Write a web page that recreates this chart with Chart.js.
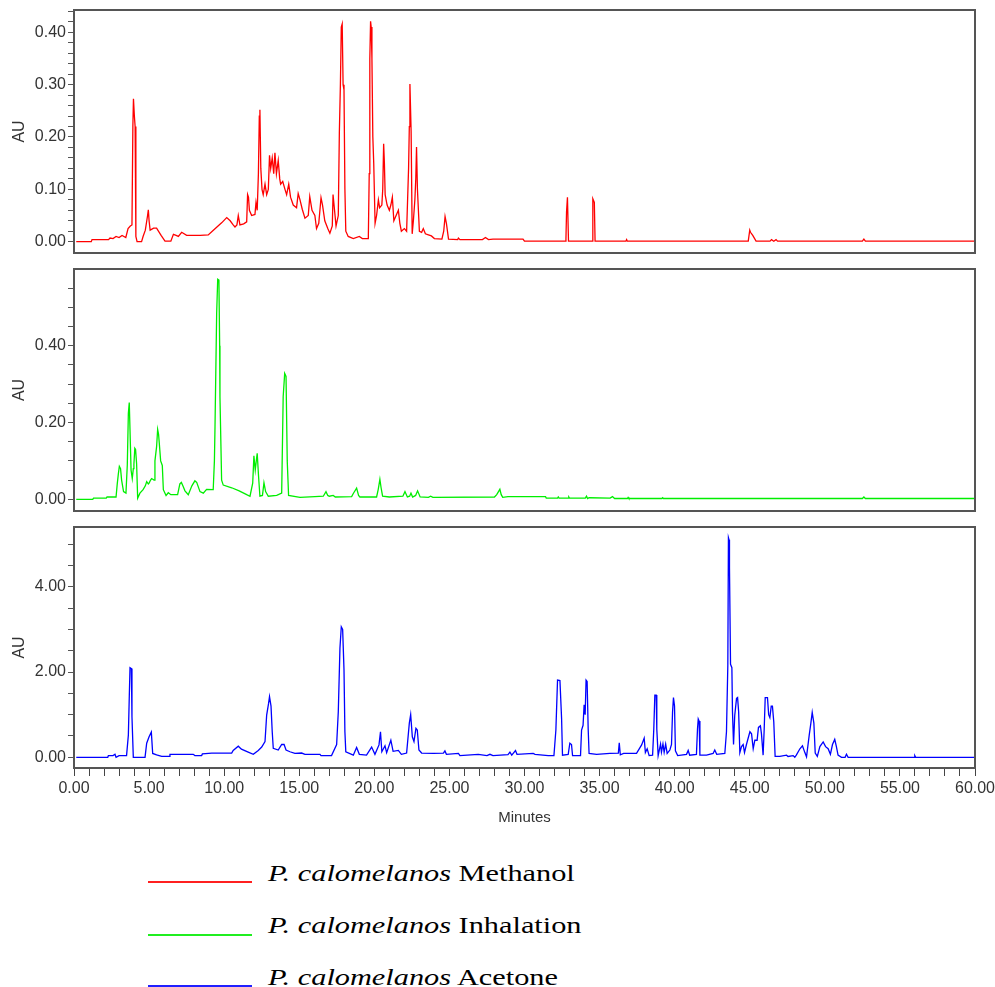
<!DOCTYPE html>
<html>
<head>
<meta charset="utf-8">
<script src="https://cdn.jsdelivr.net/npm/chart.js@4.4.1/dist/chart.umd.min.js"></script>
<style>
  body { margin: 0; background: #fff; width: 995px; height: 987px; overflow: hidden; position: relative; }
  canvas { position: absolute; left: 0; }
  .key { position: absolute; left: 148px; width: 104px; height: 2px; }
  .txt { position: absolute; left: 268px; font-family: 'Liberation Serif', 'Times New Roman', serif; font-size: 23.5px; line-height: 24px;
         white-space: nowrap; transform: scaleX(1.29); transform-origin: 0 0; color: #000; }
</style>
</head>
<body>
<canvas id="c1" width="995" height="262" style="top:0px"></canvas>
<canvas id="c2" width="995" height="258" style="top:262px"></canvas>
<canvas id="c3" width="995" height="320" style="top:520px"></canvas>

<div class="key" style="top:881px; background:#ff2020"></div>
<div class="txt" style="top:861px"><i>P. calomelanos</i> Methanol</div>
<div class="key" style="top:934px; background:#20ee20"></div>
<div class="txt" style="top:913px"><i>P. calomelanos</i> Inhalation</div>
<div class="key" style="top:985px; background:#2020ff"></div>
<div class="txt" style="top:965px"><i>P. calomelanos</i> Acetone</div>

<script>
// [minutes, AU]
var methanol = [[0.15,0],[1.15,0],[1.2,0.004],[2.3,0.004],[2.4,0.007],[2.6,0.006],[2.8,0.01],[3.0,0.008],[3.2,0.012],[3.45,0.008],[3.6,0.025],[3.75,0.03],[3.86,0.032],[3.92,0.22],[3.96,0.273],[4.02,0.24],[4.07,0.22],[4.12,0.01],[4.2,0],[4.5,0],[4.6,0.01],[4.75,0.022],[4.9,0.05],[4.95,0.061],[5.0,0.04],[5.07,0.022],[5.3,0.026],[5.5,0.026],[5.8,0.012],[6.06,0.001],[6.45,0.001],[6.62,0.014],[6.8,0.012],[6.95,0.01],[7.17,0.018],[7.5,0.012],[8.4,0.012],[8.94,0.013],[9.28,0.022],[9.83,0.036],[10.17,0.046],[10.4,0.04],[10.6,0.032],[10.72,0.028],[10.85,0.032],[10.94,0.05],[11.05,0.032],[11.3,0.034],[11.5,0.038],[11.56,0.09],[11.62,0.085],[11.68,0.06],[11.83,0.05],[12.05,0.052],[12.12,0.075],[12.2,0.06],[12.28,0.13],[12.34,0.24],[12.38,0.252],[12.44,0.14],[12.52,0.1],[12.6,0.09],[12.72,0.11],[12.83,0.09],[12.94,0.1],[13.02,0.165],[13.1,0.14],[13.2,0.16],[13.3,0.13],[13.38,0.17],[13.48,0.13],[13.6,0.155],[13.7,0.12],[13.76,0.11],[13.9,0.115],[14.05,0.1],[14.16,0.09],[14.3,0.11],[14.42,0.085],[14.6,0.07],[14.82,0.065],[14.93,0.092],[15.05,0.08],[15.2,0.062],[15.38,0.045],[15.6,0.05],[15.7,0.086],[15.85,0.06],[16.04,0.05],[16.15,0.025],[16.3,0.035],[16.45,0.084],[16.55,0.07],[16.7,0.04],[16.9,0.025],[17.04,0.016],[17.2,0.03],[17.25,0.09],[17.35,0.06],[17.45,0.03],[17.6,0.05],[17.67,0.207],[17.74,0.3],[17.8,0.41],[17.86,0.416],[17.92,0.3],[17.98,0.29],[18.04,0.1],[18.1,0.02],[18.26,0.01],[18.6,0.006],[19.0,0.01],[19.2,0.006],[19.6,0.006],[19.66,0.13],[19.7,0.35],[19.75,0.421],[19.79,0.41],[19.84,0.35],[19.9,0.2],[19.96,0.15],[20.05,0.035],[20.15,0.05],[20.27,0.08],[20.35,0.065],[20.5,0.07],[20.56,0.1],[20.62,0.187],[20.67,0.15],[20.72,0.09],[20.85,0.07],[21.0,0.06],[21.1,0.07],[21.2,0.085],[21.3,0.04],[21.45,0.05],[21.6,0.06],[21.7,0.035],[21.8,0.02],[22.0,0.025],[22.15,0.02],[22.28,0.14],[22.33,0.22],[22.37,0.301],[22.45,0.21],[22.52,0.015],[22.6,0.04],[22.7,0.08],[22.76,0.12],[22.81,0.181],[22.87,0.1],[22.92,0.069],[23.0,0.02],[23.15,0.018],[23.26,0.025],[23.4,0.015],[23.6,0.013],[23.8,0.011],[24.0,0.006],[24.5,0.005],[24.62,0.02],[24.71,0.048],[24.8,0.035],[24.94,0.005],[25.55,0.004],[25.6,0.007],[25.7,0.004],[27.2,0.004],[27.4,0.008],[27.6,0.004],[27.9,0.005],[29.9,0.005],[30.0,0.001],[32.7,0.001],[32.76,0.005],[32.8,0.057],[32.86,0.085],[32.93,0.001],[34.5,0.001],[34.55,0.082],[34.65,0.075],[34.7,0.001],[36.75,0.001],[36.8,0.004],[36.85,0.001],[44.9,0.001],[45.0,0.022],[45.05,0.018],[45.2,0.012],[45.42,0.001],[46.35,0.001],[46.45,0.004],[46.6,0.001],[46.75,0.004],[46.85,0.001],[52.5,0.001],[52.6,0.005],[52.7,0.001],[60.0,0.001]];

var inhalation = [[0.15,0],[1.25,0],[1.3,0.003],[2.15,0.003],[2.2,0.006],[2.8,0.006],[2.88,0.04],[2.95,0.065],[3.02,0.086],[3.1,0.08],[3.17,0.05],[3.3,0.02],[3.46,0.016],[3.55,0.09],[3.62,0.224],[3.68,0.252],[3.73,0.18],[3.8,0.076],[3.88,0.054],[3.95,0.08],[3.99,0.092],[4.05,0.133],[4.1,0.13],[4.17,0.092],[4.24,0.003],[4.39,0.016],[4.6,0.025],[4.75,0.035],[4.84,0.046],[4.95,0.04],[5.0,0.042],[5.1,0.05],[5.17,0.054],[5.33,0.05],[5.39,0.1],[5.5,0.137],[5.57,0.182],[5.63,0.17],[5.68,0.146],[5.77,0.1],[5.88,0.088],[5.95,0.025],[6.13,0.01],[6.28,0.017],[6.45,0.012],[6.9,0.012],[7.05,0.04],[7.15,0.044],[7.25,0.035],[7.39,0.022],[7.61,0.012],[7.85,0.035],[8.05,0.048],[8.17,0.044],[8.39,0.02],[8.61,0.016],[8.83,0.026],[9.27,0.025],[9.35,0.1],[9.39,0.189],[9.5,0.484],[9.57,0.573],[9.65,0.571],[9.7,0.4],[9.72,0.267],[9.83,0.05],[9.94,0.037],[10.5,0.03],[11.0,0.022],[11.5,0.012],[11.72,0.008],[11.9,0.042],[11.98,0.113],[12.07,0.076],[12.14,0.1],[12.2,0.12],[12.29,0.06],[12.38,0.008],[12.55,0.01],[12.65,0.043],[12.76,0.02],[12.94,0.008],[13.5,0.01],[13.83,0.016],[13.93,0.267],[14.03,0.328],[14.12,0.32],[14.2,0.1],[14.29,0.01],[15.05,0.005],[16.04,0.007],[16.6,0.008],[16.78,0.02],[16.9,0.01],[17.0,0.008],[17.26,0.01],[17.4,0.006],[18.49,0.007],[18.6,0.015],[18.82,0.029],[18.95,0.01],[19.04,0.006],[20.15,0.006],[20.26,0.026],[20.37,0.052],[20.45,0.03],[20.55,0.008],[21.0,0.006],[21.9,0.008],[22.04,0.02],[22.2,0.006],[22.35,0.008],[22.44,0.016],[22.55,0.006],[22.75,0.01],[22.88,0.022],[23.05,0.006],[23.6,0.005],[23.75,0.008],[23.9,0.005],[28.0,0.006],[28.15,0.012],[28.36,0.026],[28.45,0.012],[28.55,0.005],[28.9,0.007],[31.4,0.007],[31.45,0.003],[32.2,0.003],[32.25,0.006],[32.3,0.003],[32.9,0.003],[32.95,0.006],[33.0,0.003],[34.05,0.003],[34.13,0.008],[34.2,0.002],[34.3,0.004],[35.7,0.003],[35.86,0.007],[36.0,0.002],[36.85,0.002],[36.9,0.005],[36.95,0.002],[39.15,0.002],[39.2,0.004],[39.25,0.002],[52.5,0.002],[52.6,0.006],[52.7,0.002],[60.0,0.002]];

var acetone = [[0.15,0],[2.25,0],[2.29,0.04],[2.6,0.04],[2.73,0.07],[2.8,0],[3.0,0.04],[3.5,0.04],[3.62,0.52],[3.68,1.4],[3.73,2.1],[3.82,2.08],[3.86,0.95],[3.95,0],[4.73,0],[4.84,0.33],[5.0,0.48],[5.15,0.59],[5.24,0.09],[5.5,0.055],[5.84,0.02],[6.35,0.02],[6.39,0.07],[7.94,0.07],[8.05,0.04],[8.5,0.04],[8.55,0.08],[9.17,0.1],[10.5,0.1],[10.6,0.16],[10.94,0.26],[11.15,0.19],[11.6,0.12],[11.94,0.07],[12.27,0.16],[12.5,0.24],[12.72,0.37],[12.83,0.99],[12.96,1.27],[13.02,1.42],[13.12,1.2],[13.2,0.6],[13.27,0.21],[13.6,0.17],[13.83,0.3],[13.99,0.3],[14.12,0.17],[14.38,0.13],[14.71,0.09],[15.16,0.1],[15.38,0.07],[16.38,0.07],[16.45,0.04],[17.15,0.04],[17.49,0.3],[17.6,1.07],[17.71,2.56],[17.8,3.06],[17.89,3.0],[17.98,2.05],[18.04,0.6],[18.1,0.13],[18.6,0.05],[18.82,0.23],[19.0,0.07],[19.48,0.05],[19.82,0.24],[20.04,0.07],[20.31,0.29],[20.41,0.6],[20.5,0.13],[20.71,0.27],[20.82,0.11],[21.1,0.4],[21.25,0.14],[21.6,0.16],[21.8,0.07],[22.15,0.1],[22.33,0.8],[22.42,1.0],[22.53,0.48],[22.64,0.37],[22.77,0.68],[22.86,0.64],[22.97,0.17],[23.15,0.1],[23.92,0.09],[24.6,0.1],[24.7,0.15],[24.8,0.07],[25.6,0.09],[25.7,0.04],[26.92,0.07],[27.5,0.04],[27.7,0.07],[27.9,0.04],[28.9,0.06],[29.03,0.12],[29.15,0.05],[29.4,0.16],[29.5,0.07],[30.58,0.09],[30.7,0.07],[31.58,0.04],[31.96,0.04],[32.09,0.64],[32.2,1.81],[32.36,1.8],[32.47,0.91],[32.53,0.05],[32.91,0.07],[33.02,0.33],[33.13,0.3],[33.2,0.04],[33.73,0.04],[33.8,0.64],[33.9,0.75],[33.97,1.23],[34.04,1.0],[34.1,1.81],[34.17,1.78],[34.24,0.67],[34.3,0.09],[34.8,0.07],[35.69,0.09],[36.25,0.1],[36.31,0.34],[36.38,0.06],[36.6,0.09],[37.46,0.09],[37.8,0.29],[37.97,0.45],[38.05,0.11],[38.17,0.2],[38.3,0.04],[38.53,0.05],[38.61,0.66],[38.68,1.46],[38.77,1.46],[38.81,0.66],[38.9,0.04],[39.06,0.31],[39.12,0.12],[39.22,0.31],[39.3,0.12],[39.4,0.31],[39.5,0.09],[39.68,0.17],[39.79,0.3],[39.86,1.07],[39.92,1.4],[39.99,1.2],[40.05,0.15],[40.2,0.04],[40.79,0.07],[40.9,0.16],[41.0,0.05],[41.45,0.07],[41.52,0.66],[41.57,0.9],[41.63,0.85],[41.68,0.05],[42.12,0.05],[42.56,0.09],[42.67,0.17],[42.8,0.07],[43.34,0.09],[43.45,0.6],[43.54,2.16],[43.58,5.15],[43.62,5.1],[43.65,4.45],[43.72,2.18],[43.81,2.1],[43.85,1.07],[43.92,0.3],[44.0,0.98],[44.12,1.38],[44.19,1.4],[44.26,1.07],[44.34,0.11],[44.45,0.25],[44.56,0.3],[44.65,0.11],[44.78,0.3],[45.01,0.6],[45.12,0.55],[45.23,0.2],[45.34,0.4],[45.49,0.4],[45.58,0.7],[45.71,0.74],[45.78,0.55],[45.89,0.05],[45.96,0.64],[46.03,1.4],[46.18,1.4],[46.26,1.0],[46.34,0.93],[46.43,1.2],[46.51,1.2],[46.6,0.83],[46.69,0.02],[47.0,0.02],[47.45,0.05],[47.55,0.02],[47.89,0.04],[48.0,0],[48.1,0.05],[48.34,0.2],[48.51,0.27],[48.67,0.11],[48.78,0.01],[48.96,0.52],[49.07,0.8],[49.16,1.05],[49.27,0.8],[49.36,0.1],[49.5,0.02],[49.67,0.25],[49.89,0.36],[50.05,0.25],[50.22,0.2],[50.37,0.07],[50.51,0.3],[50.66,0.42],[50.77,0.25],[50.88,0.05],[51.11,0],[51.35,0],[51.44,0.07],[51.55,0],[55.95,0],[55.99,0.04],[56.05,0],[60.0,0]];

var topTicks = [0,0.02,0.04,0.06,0.08,0.1,0.12,0.14,0.16,0.18,0.2,0.22,0.24,0.26,0.28,0.3,0.32,0.34,0.36,0.38,0.4,0.42,0.44];
var topLabels = ['0.00','0.10','0.20','0.30','0.40'];
var midTicks = [0,0.05,0.1,0.15,0.2,0.25,0.3,0.35,0.4,0.45,0.5,0.55];
var midLabels = ['0.00','0.20','0.40'];
var botTicks = [0,0.5,1,1.5,2,2.5,3,3.5,4,4.5,5];
var botLabels = ['0.00','2.00','4.00'];
var xTicks = [0,1,2,3,4,5,6,7,8,9,10,11,12,13,14,15,16,17,18,19,20,21,22,23,24,25,26,27,28,29,30,31,32,33,34,35,36,37,38,39,40,41,42,43,44,45,46,47,48,49,50,51,52,53,54,55,56,57,58,59,60];
var xLabels = ['0.00','5.00','10.00','15.00','20.00','25.00','30.00','35.00','40.00','45.00','50.00','55.00','60.00'];

Chart.defaults.font.family = "'Liberation Sans', Arial, sans-serif";

var boxPlugin = {
    id: 'box',
    afterDraw: function (chart) {
        var a = chart.chartArea, ctx = chart.ctx;
        ctx.save();
        ctx.strokeStyle = '#555';
        ctx.lineWidth = 2;
        ctx.strokeRect(a.left, a.top, a.right - a.left, a.bottom - a.top);
        ctx.restore();
    }
};

function makePanel(id, points, color, yMin, yMax, yTicks, yLabels, pad, showX) {
    var xAxis = { type: 'linear', min: 0, max: 60, bounds: 'data', display: false };
    if (showX) {
        xAxis = {
            type: 'linear', min: 0, max: 60, bounds: 'data',
            afterBuildTicks: function (s) { s.ticks = xTicks.map(function (v) { return { value: v }; }); },
            afterFit: function (s) { s.height = 72; s.paddingLeft = 0; s.paddingRight = 0; },
            grid: { drawOnChartArea: false, tickLength: 8, tickColor: '#444' },
            border: { display: false },
            ticks: {
                autoSkip: false, maxRotation: 0, padding: 3, color: '#333', font: { size: 16 },
                callback: function (v) { var s = v.toFixed(2); return xLabels.indexOf(s) >= 0 ? s : ''; }
            },
            title: { display: true, text: 'Minutes', color: '#333', font: { size: 15 }, padding: { top: 0, bottom: 13 } }
        };
    }
    return new Chart(document.getElementById(id), {
        type: 'line',
        data: {
            datasets: [{
                data: points.map(function (p) { return { x: p[0], y: p[1] }; }),
                borderColor: color,
                borderWidth: 1.3,
                pointRadius: 0,
                tension: 0,
                fill: false
            }]
        },
        options: {
            responsive: false,
            animation: false,
            devicePixelRatio: 1,
            layout: { padding: { left: 0, right: 20, top: pad[0], bottom: pad[1] } },
            plugins: { legend: { display: false }, tooltip: { enabled: false } },
            scales: {
                x: xAxis,
                y: {
                    type: 'linear', min: yMin, max: yMax, bounds: 'data',
                    afterBuildTicks: function (s) { s.ticks = yTicks.map(function (v) { return { value: v }; }); },
                    afterFit: function (s) { s.width = 74; s.paddingTop = 0; s.paddingBottom = 0; },
                    grid: { drawOnChartArea: false, tickLength: 6, tickColor: '#555' },
                    border: { display: false },
                    ticks: {
                        autoSkip: false, padding: 2, color: '#333', font: { size: 16 },
                        callback: function (v) { var s = v.toFixed(2); return yLabels.indexOf(s) >= 0 ? s : ''; }
                    },
                    title: { display: true, text: 'AU', color: '#333', font: { size: 16 }, padding: { top: 10, bottom: 0 } }
                }
            }
        },
        plugins: [boxPlugin]
    });
}

makePanel('c1', methanol, '#ff0000', -0.0216, 0.4426, topTicks, topLabels, [10, 9], false);
makePanel('c2', inhalation, '#00ee00', -0.0305, 0.5997, midTicks, midLabels, [7, 9], false);
makePanel('c3', acetone, '#0000ff', -0.251, 5.40, botTicks, botLabels, [7, 0], true);
</script>
</body>
</html>
